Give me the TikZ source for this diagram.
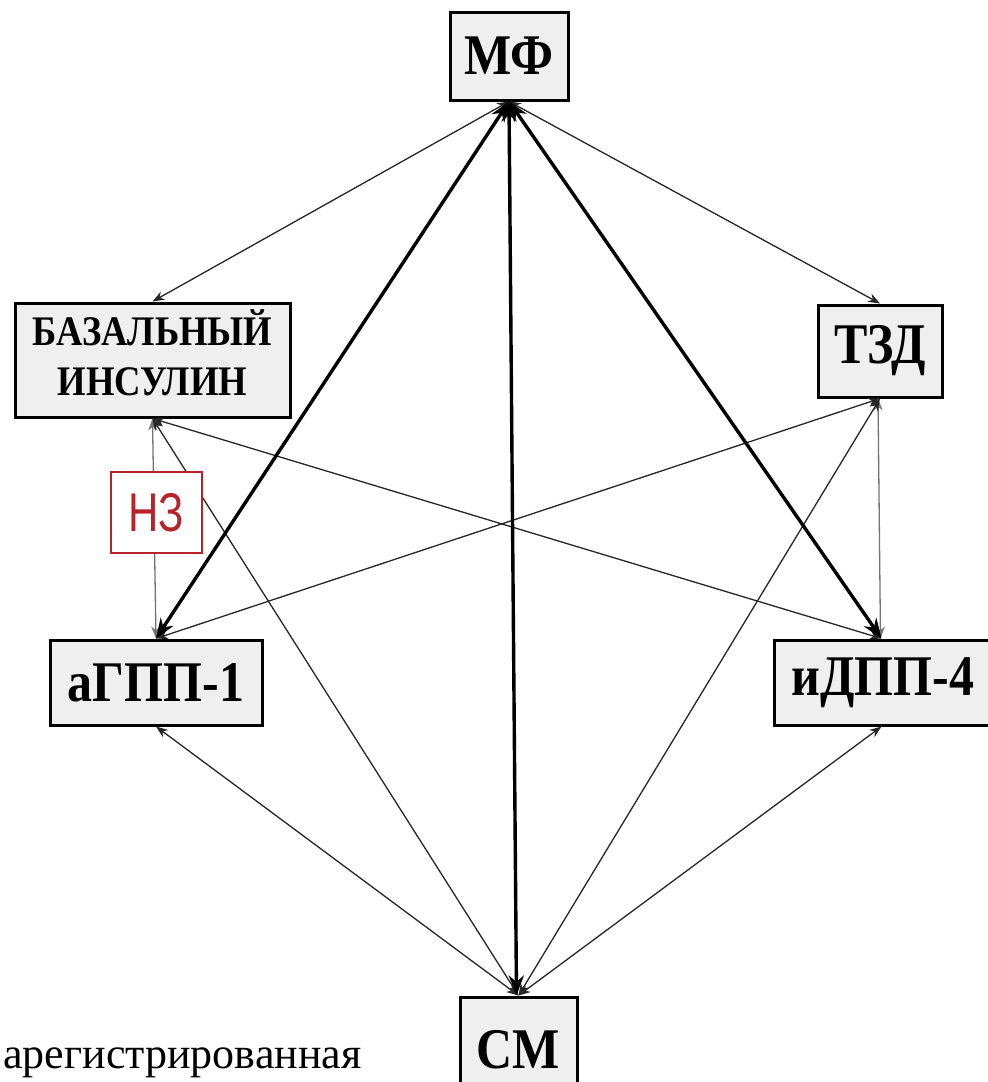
\documentclass[tikz,border=0pt]{standalone}
\usepackage{graphicx}
\usepackage{fontspec}
\setmainfont{Liberation Serif}
\newfontfamily\arialf{Liberation Sans}
\usetikzlibrary{arrows.meta}
\newcommand\tallt[2][1.15]{\scalebox{1}[#1]{#2}}
\definecolor{boxfill}{HTML}{EFEFEF}
\definecolor{nzred}{HTML}{B8222A}
\begin{document}
\begin{tikzpicture}[x=0.5pt,y=-0.5pt,
  box/.style={draw=black,line width=1.5pt,fill=boxfill,inner sep=0pt,
    font=\fontsize{25}{30}\selectfont\bfseries},
  thinarr/.style={line width=0.65pt,black!85,
    {Stealth[length=6pt,width=4.5pt]}-{Stealth[length=6pt,width=4.5pt]}},
  grayarr/.style={thinarr,black!55},
  thickarr/.style={line width=1.7pt,
    {Stealth[length=10pt,width=7.5pt]}-{Stealth[length=10pt,width=7.5pt]}},
]
\useasboundingbox (0,0) rectangle (988,1082);
\begin{scope}
\clip (0,0) rectangle (988,1082);
% boxes
\node[box,minimum width=59pt,minimum height=44pt] (mf) at (509,56) {\tallt{МФ}};
\node[box,minimum width=137.5pt,minimum height=57pt,
  font=\fontsize{18.3}{21.7}\selectfont\bfseries] (basal) at (152.5,360)
  {\tallt{\begin{tabular}{@{}c@{}}БАЗАЛЬНЫЙ\\ИНСУЛИН\end{tabular}}};
\node[box,minimum width=62pt,minimum height=46pt] (tzd) at (880,351) {\tallt{ТЗД}};
\node[box,minimum width=106pt,minimum height=42.5pt] (agpp) at (156,682.5) {\tallt{аГПП-1}};
\node[box,anchor=west,minimum height=42.5pt,text width=105pt,inner xsep=8.5pt,align=left]
  (idpp) at (773,682.5) {\tallt{иДПП-4}};
\node[box,minimum width=58.5pt,minimum height=53pt] (sm) at (518.5,1050) {\tallt{СМ}};
% connectors
\draw[thinarr] (mf.south) -- (basal.north);
\draw[thinarr] (mf.south) -- (tzd.north);
\draw[grayarr] (basal.south) -- (agpp.north);
\draw[thinarr] (basal.south) -- ([xshift=-7.5pt]idpp.north);
\draw[thinarr] (basal.south) -- (sm.north);
\draw[thinarr] (tzd.south) -- (agpp.north);
\draw[grayarr] ([xshift=-1pt]tzd.south) -- ([xshift=-8pt]idpp.north);
\draw[thinarr] (tzd.south) -- (sm.north);
\draw[thinarr] (agpp.south) -- (sm.north);
\draw[thinarr] ([xshift=-7.5pt]idpp.south) -- (sm.north);
\draw[thickarr] (mf.south) -- (agpp.north);
\draw[thickarr] (mf.south) -- ([xshift=-7.5pt]idpp.north);
\draw[thickarr] (mf.south) -- ([xshift=-1pt]sm.north);
% NZ label
\node[draw=nzred,line width=0.7pt,fill=white,text=nzred,inner sep=0pt,
  minimum width=45.5pt,minimum height=40.5pt,
  font=\arialf\fontsize{21}{25}\selectfont] (nz) at (156.5,512.5) {\tallt[1.3]{НЗ}};
% footnote text
\node[anchor=base west,inner sep=0pt,font=\fontsize{22}{26}\selectfont] (note) at (3,1068) {арегистрированная};
\end{scope}
\end{tikzpicture}
\end{document}
